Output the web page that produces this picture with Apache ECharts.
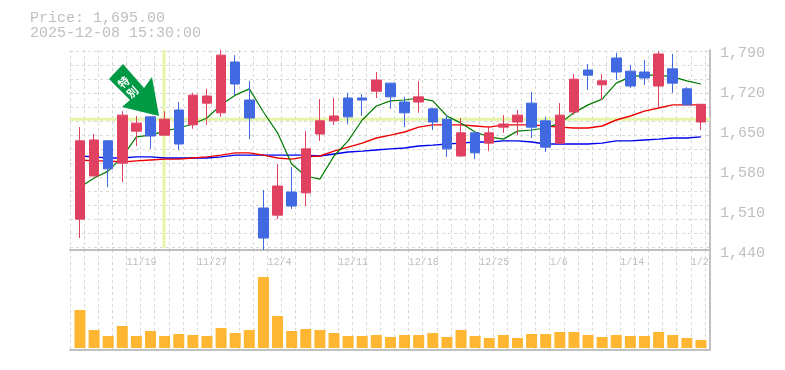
<!DOCTYPE html>
<html><head><meta charset="utf-8">
<style>html,body{margin:0;padding:0;background:#fff}#c{width:785px;height:370px}</style>
<script src="https://cdn.jsdelivr.net/npm/echarts@6/dist/echarts.min.js"></script></head>
<body><div id="c"></div>
<script>
const headerLines = ['Price: 1,695.00', '2025-12-08 15:30:00'];
const dates = ['11/13','11/14','11/17','11/18','11/19','11/20','11/21','11/25','11/26','11/27','11/28','12/1','12/2','12/3','12/4','12/5','12/8','12/9','12/10','12/11','12/12','12/15','12/16','12/17','12/18','12/19','12/22','12/23','12/24','12/25','12/26','12/29','12/30','1/5','1/6','1/7','1/8','1/9','1/13','1/14','1/15','1/16','1/19','1/20','1/21'];
const tickIndex = [4, 9, 14, 19, 24, 29, 34, 39, 44];
const opens = [1494,1569.5,1631,1592,1648,1673,1641,1685,1659,1697,1680,1769,1702.5,1513.5,1501,1541.5,1540,1643,1666,1706,1706,1718,1732,1699,1699,1687,1669,1604.5,1645,1627,1655,1664,1697,1666,1627,1681.5,1755,1729,1776,1753,1751.5,1727,1757,1722,1664];
const closes = [1631,1632.5,1582,1676,1662,1639.5,1669,1625.5,1711,1709.5,1781,1730.5,1671,1461,1552,1517,1617,1666,1674.5,1673,1702.5,1737.5,1708,1680,1708,1664,1617,1645,1610,1645,1660.5,1676,1655,1620,1676,1739,1746,1736,1751.5,1727,1741,1783,1732,1694,1695];
const lows = [1461,1569.5,1550,1559,1622,1617,1641,1615,1652,1659,1673,1711,1634,1440,1494,1512,1517,1631,1659,1660,1674.5,1706,1687,1655,1680,1650,1603,1603,1599,1613,1645,1641,1636,1611.5,1627,1676,1720,1702.5,1737.5,1723.5,1729,1688.5,1715,1694,1650];
const highs = [1655,1643,1632.5,1683,1674.5,1673,1683,1699,1715,1722,1790,1781,1736,1545,1590.5,1585,1648,1704,1706,1715,1713,1751.5,1732,1708,1736,1688.5,1676,1671,1645,1657,1676,1685,1716.5,1673,1697,1748,1765.5,1748,1785,1764,1772.5,1788,1783,1725,1695];
const maShort = [1550,1566,1578,1603,1638,1641,1648,1653.5,1660.5,1671,1694,1711,1722,1681.5,1645,1590.5,1569.5,1564,1604.5,1631,1667.5,1692,1701,1702.5,1706,1701,1674.5,1662,1646.5,1638,1634,1648,1650,1653.5,1662,1680,1694,1704,1732,1743,1746,1746,1743,1736,1730.5];
const maMid = [1597.5,1596,1596,1594,1596,1597.5,1599,1599,1601,1603,1606,1610,1610,1606,1601,1599,1603,1604.5,1613,1620,1627,1636,1641,1646.5,1655,1659,1659,1659,1657,1655,1659,1659,1659,1657,1655,1653.5,1653.5,1657,1667.5,1674.5,1683,1688.5,1694,1694,1694];
const maLong = [1604.5,1603,1601,1601,1603,1603,1601,1601,1601,1601,1603,1606,1606,1606,1606,1606,1606,1604.5,1608,1611.5,1613,1615,1617,1618.5,1622,1623.5,1625.5,1627,1629,1629,1631,1631,1629,1625.5,1625.5,1625.5,1625.5,1627,1631,1631,1632.5,1634,1636,1636,1638];
const volumes = [38,18,12,22,12,17,12,14,13,12,20,15,18,71,32,17,19,18,15,12,12,13,11,13,13,15,11,18,12,10,13,10,14,14,16,16,13,11,13,12,12,16,13,10,8];
const crossPrice = 1669;
const crossSlot = 6.66;
const arrowLabel = '\u7279\n\u5225';

const slots = 45.36;
const RED = '#e04160', BLUE = '#4169e1', TXT = '#bfbfbf', GRID = '#d8d8d8', FRAME = '#c0c0c0', CROSS = '#e4f5a9';
const mono = '"Liberation Mono", monospace';
const candle = opens.map((o, i) => [o, closes[i], lows[i], highs[i]]);
const fmtComma = v => String(v).replace(/(\d)(\d{3})$/, '$1,$2');
const hidden = {show:false};

const bgX = (gi, extra) => Object.assign({
  type:'value', gridIndex:gi, min:0, max:slots, interval:1,
  axisTick:hidden, axisLabel:hidden,
  axisLine:{show:true, onZero:false, lineStyle:{color:FRAME, width:2}},
  splitLine:{show:true, lineStyle:{color:GRID, type:[3,3], width:1}}
}, extra);

const chart = echarts.init(document.getElementById('c'), null, {renderer:'canvas'});
chart.setOption({
  animation:false,
  backgroundColor:'#fff',
  grid:[
    {left:70, top:50, width:640, height:200},
    {left:70, top:250, width:640, height:100},
    {left:70, top:51, width:640, height:199},
    {left:72.9, top:50, width:635.1, height:200},
    {left:72.9, top:250, width:635.1, height:98},
    {left:70, top:53, width:640, height:200}
  ],
  xAxis:[
    bgX(0, {axisLabel:{show:true, fontFamily:mono, fontSize:10, color:TXT, align:'left', margin:7,
      formatter:v => tickIndex.includes(v) ? dates[v] : ''}}),
    bgX(1, {}),
    {type:'value', gridIndex:2, min:0, max:slots, show:false},
    {type:'category', gridIndex:3, data:dates, show:false},
    {type:'category', gridIndex:4, data:dates, show:false},
    {type:'value', gridIndex:5, min:0, max:slots, show:false}
  ],
  yAxis:[
    {type:'value', gridIndex:0, min:1440, max:1790, interval:70, position:'right', splitLine:hidden, axisTick:hidden, axisLabel:hidden,
      axisLine:{show:true, onZero:false, lineStyle:{color:FRAME, width:2}}},
    {type:'value', gridIndex:1, min:0, max:100, position:'right', splitLine:hidden, axisTick:hidden, axisLabel:hidden,
      axisLine:{show:true, onZero:false, lineStyle:{color:FRAME, width:2}}},
    {type:'value', gridIndex:2, inverse:true, min:0, max:199, interval:14, axisTick:hidden, axisLabel:hidden, axisLine:hidden,
      splitLine:{show:true, showMaxLine:false, lineStyle:{color:GRID, type:[3,3], width:1}}},
    {type:'value', gridIndex:3, min:1440, max:1790, show:false},
    {type:'value', gridIndex:4, min:0, max:98, show:false},
    {type:'value', gridIndex:5, min:1440, max:1790, interval:70, position:'right', splitLine:hidden, axisTick:hidden,
      axisLine:{show:false, onZero:false},
      axisLabel:{fontFamily:mono, fontSize:15, color:TXT, margin:10, formatter:fmtComma}}
  ],
  series:[
    {type:'line', xAxisIndex:0, yAxisIndex:0, data:[[0,crossPrice],[slots,crossPrice]], symbol:'none', silent:true, z:1,
      lineStyle:{color:CROSS, width:3}},
    {type:'line', xAxisIndex:0, yAxisIndex:0, data:[[crossSlot,1444],[crossSlot,1790]], symbol:'none', silent:true, z:1,
      lineStyle:{color:CROSS, width:3}},
    {type:'line', xAxisIndex:3, yAxisIndex:3, data:maLong, symbol:'none', z:2, lineStyle:{color:'#0000ee', width:1.4}},
    {type:'line', xAxisIndex:3, yAxisIndex:3, data:maMid, symbol:'none', z:2, lineStyle:{color:'#ee0000', width:1.4}},
    {type:'line', xAxisIndex:3, yAxisIndex:3, data:maShort, symbol:'none', z:2, lineStyle:{color:'#007a00', width:1.2}},
    {type:'candlestick', xAxisIndex:3, yAxisIndex:3, data:candle, barWidth:10, z:3,
      itemStyle:{color:RED, color0:BLUE, borderColor:RED, borderColor0:BLUE, borderWidth:1}},
    {type:'bar', xAxisIndex:4, yAxisIndex:4, data:volumes, barWidth:11, itemStyle:{color:'#ffb733'}, z:3}
  ],
  graphic:[
    {type:'text', left:30, top:11, style:{text:headerLines[0], font:'15px '+mono, fill:TXT}},
    {type:'text', left:30, top:26, style:{text:headerLines[1], font:'15px '+mono, fill:TXT}},
    {type:'polygon', z:10, shape:{points:[[123,64],[144,88],[152,77],[159,116],[122,107],[130,100],[109,79]]},
      style:{fill:'#009944'}},
    {type:'text', z:11, x:128, y:87, rotation:0.72, originX:0, originY:0,
      style:{text:arrowLabel, font:'bold 11px "Noto Sans CJK JP"', lineHeight:13, fill:'#fff', align:'center', verticalAlign:'middle'}},
    {type:'rect', z:12, shape:{x:711, y:255, width:9, height:14}, style:{fill:'#fff'}}
  ]
});
</script></body></html>
